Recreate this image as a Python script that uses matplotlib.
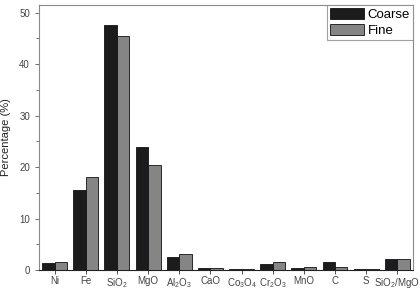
import matplotlib
matplotlib.use("Agg")
import matplotlib.pyplot as plt
import numpy as np

categories = ["Ni", "Fe", r"SiO$_2$", "MgO", r"Al$_2$O$_3$", "CaO",
              r"Co$_3$O$_4$", r"Cr$_2$O$_3$", "MnO", "C", "S", r"SiO$_2$/MgO"]
coarse = [1.4, 15.5, 47.6, 23.9, 2.6, 0.4, 0.1, 1.2, 0.45, 1.6, 0.2, 2.1]
fine = [1.6, 18.0, 45.5, 20.4, 3.1, 0.3, 0.1, 1.5, 0.6, 0.6, 0.1, 2.2]


def main():
    plt.rcParams["font.family"] = ["Liberation Sans", "DejaVu Sans"]
    plt.rcParams["mathtext.fontset"] = "custom"
    plt.rcParams["mathtext.rm"] = "Liberation Sans"
    plt.rcParams["mathtext.it"] = "Liberation Sans"

    fig = plt.figure(figsize=(4.2, 2.9), dpi=100)
    ax = fig.add_axes([0.093, 0.069, 0.89, 0.914])

    x = np.arange(len(categories))
    w = 0.4
    ax.bar(x - w / 2, coarse, w, color="#1c1c1e", edgecolor="#111111",
           linewidth=0.6, label="Coarse")
    ax.bar(x + w / 2, fine, w, color="#858585", edgecolor="#111111",
           linewidth=0.6, label="Fine")

    ax.set_xlim(-0.5, len(categories) - 0.5)
    ax.set_ylim(0, 51.5)
    ax.set_xticks(x)
    ax.set_xticklabels(categories, fontsize=7, color="#444444")
    ax.set_yticks([0, 10, 20, 30, 40, 50])
    ax.set_yticks([5, 15, 25, 35, 45], minor=True)
    ax.tick_params(axis="y", labelsize=7, labelcolor="#444444", direction="out",
                   length=3, width=0.6, color="#555555")
    ax.tick_params(axis="y", which="minor", length=2, width=0.6, color="#555555")
    ax.tick_params(axis="x", direction="out", length=3, width=0.6,
                   color="#333333", pad=1.5)
    ax.set_ylabel("Percentage (%)", fontsize=8, color="#222222", labelpad=6)

    for side in ["left", "top", "right"]:
        ax.spines[side].set_color("#8a8a8a")
        ax.spines[side].set_linewidth(0.8)
    ax.spines["bottom"].set_color("#222222")
    ax.spines["bottom"].set_linewidth(0.8)

    leg = ax.legend(loc="upper right", fontsize=9.5, frameon=True, fancybox=False,
                    borderaxespad=0, handlelength=2.6, handleheight=1.0,
                    handletextpad=0.3, borderpad=0.2, labelspacing=0.2)
    leg.get_frame().set_edgecolor("#8a8a8a")
    leg.get_frame().set_linewidth(0.8)

    fig.savefig("out.png", dpi=100)


if __name__ == "__main__":
    main()
